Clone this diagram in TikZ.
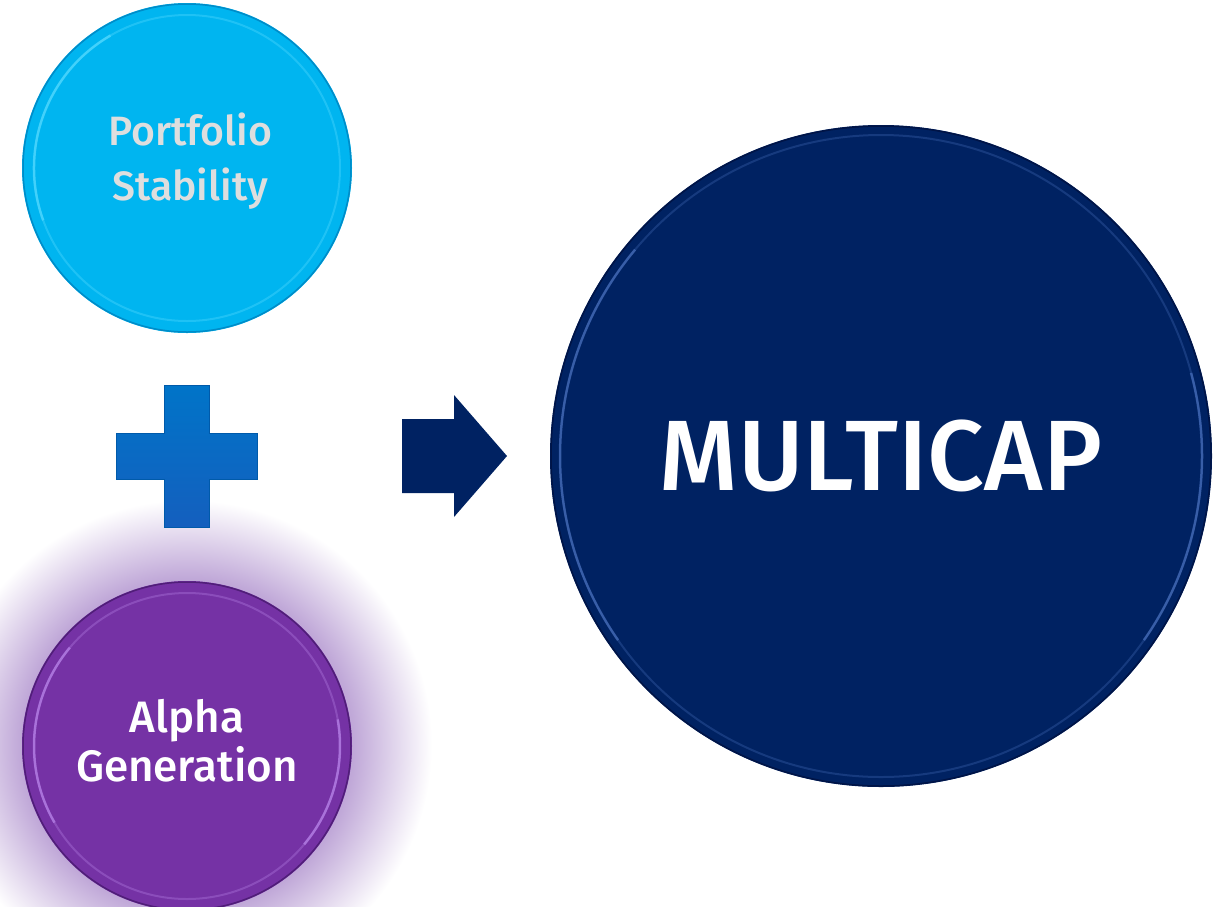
\documentclass[tikz,border=0pt]{standalone}
\usepackage{fontspec}
\setmainfont{Fira Sans Medium}
\usetikzlibrary{shadings}
\definecolor{cyanC}{RGB}{0,181,240}
\definecolor{cyanL}{RGB}{90,220,255}
\definecolor{cyanD}{RGB}{0,140,200}
\definecolor{purpC}{RGB}{117,50,165}
\definecolor{purpL}{RGB}{190,140,240}
\definecolor{purpD}{RGB}{80,30,120}
\definecolor{navyC}{RGB}{0,34,98}
\definecolor{navyL}{RGB}{90,130,210}
\definecolor{navyD}{RGB}{0,20,70}
\definecolor{plusT}{RGB}{0,116,200}
\definecolor{plusB}{RGB}{20,95,190}
\definecolor{plusE}{RGB}{0,90,170}
\definecolor{haloC}{RGB}{192,168,216}
\definecolor{greyT}{RGB}{222,222,222}
\pgfdeclareradialshading{halo}{\pgfpoint{0bp}{0bp}}{color(0bp)=(haloC); color(17bp)=(haloC); color(25bp)=(white); color(50bp)=(white)}
\tikzset{
  coin/.style={circle, inner sep=0pt, draw=none},
  coinlabel/.style={align=center, inner sep=0pt},
}
\begin{document}
\begin{tikzpicture}[x=1pt,y=-1pt]
\useasboundingbox (0,0) rectangle (1223,906);
% halo behind alpha coin
\shade[shading=halo] (187,745) circle (245pt);
% top coin
\node[coin, fill=cyanC, minimum size=330pt] (ps) at (187,168) {};
\draw[cyanL, line width=2pt, opacity=0.35] (ps.center) circle (153pt);
\draw[cyanL, line width=2.5pt, opacity=0.6] (ps.center) ++(200:153pt) arc[start angle=200, end angle=120, radius=153pt];
\draw[cyanD, line width=1.5pt] (ps.center) circle (164pt);
\node[coinlabel, text=greyT, font=\fontsize{41}{55}\selectfont] (pst) at (190,161) {Portfolio\\Stability};
% bottom coin
\node[coin, fill=purpC, minimum size=330pt] (ag) at (187,746) {};
\draw[purpL, line width=2pt, opacity=0.3] (ag.center) circle (153pt);
\draw[purpL, line width=2.5pt, opacity=0.6] (ag.center) ++(210:153pt) arc[start angle=210, end angle=140, radius=153pt];
\draw[purpL, line width=2.5pt, opacity=0.6] (ag.center) ++(-40:153pt) arc[start angle=-40, end angle=10, radius=153pt];
\draw[purpD, line width=1.5pt] (ag.center) circle (164pt);
\node[coinlabel, text=white, font=\fontsize{44}{49}\selectfont] (agt) at (187,741) {Alpha\\Generation};
% big coin
\node[coin, fill=navyC, minimum size=662pt] (mc) at (881,456) {};
\draw[navyL, line width=2pt, opacity=0.25] (mc.center) circle (321pt);
\draw[navyL, line width=2.5pt, opacity=0.5] (mc.center) ++(215:321pt) arc[start angle=215, end angle=140, radius=321pt];
\draw[navyL, line width=2.5pt, opacity=0.5] (mc.center) ++(-35:321pt) arc[start angle=-35, end angle=15, radius=321pt];
\draw[navyD, line width=1.5pt] (mc.center) circle (330pt);
\node[coinlabel, text=white, font=\fontsize{100}{120}\selectfont] (mct) at (881,456) {MULTICAP};
% plus sign
\shade[top color=plusT, bottom color=plusB, draw=plusE, line width=0.8pt]
  (164,385) -- (209,385) -- (209,433) -- (257,433) -- (257,479) -- (209,479)
  -- (209,527) -- (164,527) -- (164,479) -- (116,479) -- (116,433) -- (164,433) -- cycle;
% arrow
\fill[navyC] (402,419) -- (454,419) -- (454,395) -- (507,456) -- (454,517) -- (454,493) -- (402,493) -- cycle;
\end{tikzpicture}
\end{document}
